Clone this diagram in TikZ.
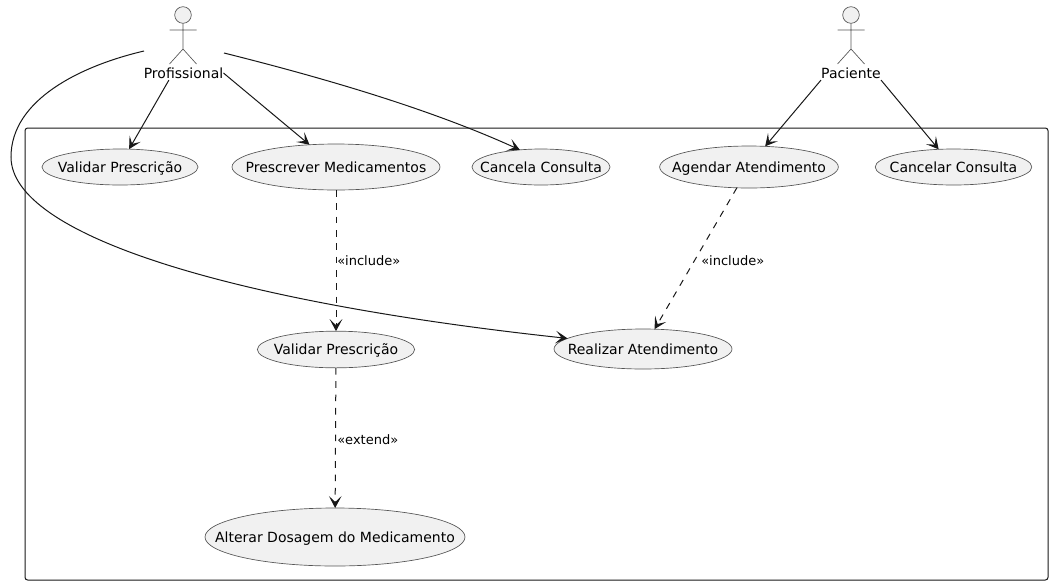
\documentclass[tikz,border=0pt]{standalone}
\usepackage{fontspec}
\usepackage{xcolor}
\setmainfont{DejaVu Sans}
\usetikzlibrary{arrows.meta,shapes.geometric}
\definecolor{ink}{HTML}{181818}
\definecolor{stroke}{HTML}{555555}
\definecolor{fillc}{HTML}{F1F1F1}
\tikzset{
  frame/.style={draw=ink, line width=0.75pt, rounded corners=2pt},
  link/.style={-{Stealth[length=9pt,width=9.5pt,inset=4.5pt]}, line width=0.75pt, draw=ink},
  linkd/.style={link, dash pattern=on 5pt off 5pt},
  usecase/.style={ellipse, draw=stroke, fill=fillc, line width=0.5pt, inner sep=0pt, outer sep=0pt,
    label={[lab]center:#1}},
  actorl/.style={draw=stroke, line width=0.5pt},
  lab/.style={text=black, font=\fontsize{10.5pt}{12pt}\selectfont, inner sep=0pt, text height=9pt, text depth=1.3pt},
  labm/.style={text=black, font=\fontsize{9.75pt}{12pt}\selectfont, inner sep=0pt, anchor=west}
}
\begin{document}
\begin{tikzpicture}[x=0.75pt,y=-0.75pt]
  \useasboundingbox (0,0) rectangle (1053,586);
  \draw[frame] (25,128) rectangle (1048,580);

  % actors
  \foreach \ax in {183,851} {
    \draw[actorl, fill=fillc] (\ax,15) circle (8.3);
    \draw[actorl] (\ax,23.3) -- (\ax,49) (\ax-13.5,30) -- (\ax+13.5,30)
      (\ax-13.5,64) -- (\ax,49) -- (\ax+13.5,64);
  }
  \node[lab] (profissional) at (183.5,73) {Profissional};
  \node[lab] (paciente) at (851,73) {Paciente};

  % use cases
  \node[usecase=Validar Prescrição, minimum width=117pt, minimum height=27pt] (validarA) at (120,167) {};
  \node[usecase=Prescrever Medicamentos, minimum width=156pt, minimum height=34.5pt] (prescrever) at (336,167) {};
  \node[usecase=Cancela Consulta, minimum width=103.5pt, minimum height=27pt] (cancela) at (541,167) {};
  \node[usecase=Agendar Atendimento, minimum width=134pt, minimum height=31.5pt] (agendar) at (749,167) {};
  \node[usecase=Cancelar Consulta, minimum width=117.5pt, minimum height=27pt] (cancelar) at (953.5,167) {};
  \node[usecase=Validar Prescrição, minimum width=118pt, minimum height=27.5pt] (validarB) at (336,349.5) {};
  \node[usecase=Realizar Atendimento, minimum width=133.5pt, minimum height=30pt] (realizar) at (643,349) {};
  \node[usecase=Alterar Dosagem do Medicamento, minimum width=195pt, minimum height=43.5pt] (alterar) at (335,537) {};

  % free ends of the two curves
  \coordinate (profL) at (144,51);
  \coordinate (profR) at (224,53);
  \coordinate (bend) at (11,157);

  \draw[link] (profissional.-154) -- (validarA.63);
  \draw[link] (profissional.east) -- (prescrever.140.5);
  \draw[link] (profR) .. controls (324,78) and (430,109) .. (cancela.141);
  \draw[link] (profL) .. controls (80,66) and (11,100) .. (bend)
    .. controls (11,235) and (230,302) .. (realizar.172);
  \draw[link] (paciente.south west) -- (agendar.52);
  \draw[link] (paciente.south east) -- (cancelar.130);

  \draw[linkd] (prescrever) -- (validarB);
  \draw[linkd] (agendar) -- (realizar);
  \draw[linkd] (validarB) -- (alterar);

  \node[labm] (inclA) at (337,261) {«include»};
  \node[labm] (inclB) at (701,261) {«include»};
  \node[labm] (ext) at (337,440) {«extend»};
\end{tikzpicture}
\end{document}
